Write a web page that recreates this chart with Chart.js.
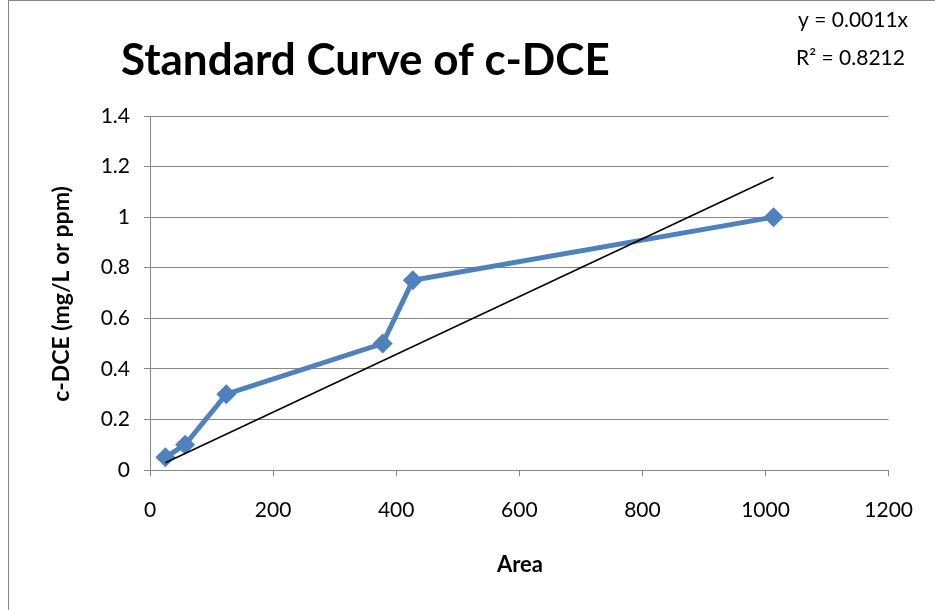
<!DOCTYPE html>
<html lang="en">
<head>
    <meta charset="UTF-8">
    <title>Standard Curve of c-DCE</title>
    <script src="https://cdn.jsdelivr.net/npm/chart.js"></script>
    <style>
        html, body { margin: 0; padding: 0; background: #fff; }
        #wrap { width: 935px; height: 610px; }
    </style>
</head>
<body>
    <div id="wrap"><canvas id="myChart" width="935" height="610"></canvas></div>

    <script>
        // data
        const areas = [25, 57, 124, 378, 427, 1013];
        const concs = [0.05, 0.1, 0.3, 0.5, 0.75, 1.0];
        const xTicks = [0, 200, 400, 600, 800, 1000, 1200];
        const yTicks = [0, 0.2, 0.4, 0.6, 0.8, 1, 1.2, 1.4];
        const equationLines = ['y = 0.0011x', 'R\u00B2 = 0.8212'];

        const FONT = 'Lato, "Open Sans", sans-serif';
        const GRAY = '#868686';
        const BLUE = '#4F81BD';

        // linear trendline through the origin (least squares), drawn over the data range
        function trendPoints() {
            let sxy = 0, sxx = 0;
            areas.forEach((x, i) => { sxy += x * concs[i]; sxx += x * x; });
            const k = sxy / sxx;
            const x0 = Math.min(...areas), x1 = Math.max(...areas);
            return [{ x: x0, y: k * x0 }, { x: x1, y: k * x1 }];
        }

        // title, equation, axis titles and outer border
        const decor = {
            id: 'decor',
            afterDraw(chart) {
                const ctx = chart.ctx;
                ctx.save();
                ctx.strokeStyle = GRAY;
                ctx.lineWidth = 1;
                ctx.strokeRect(8.5, 0.5, 1200, 1200);

                ctx.fillStyle = '#000';
                ctx.textBaseline = 'middle';
                ctx.textAlign = 'left';
                ctx.font = 'bold 44px ' + FONT;
                ctx.fillText('Standard Curve of c-DCE', 121, 61);

                ctx.font = '21px ' + FONT;
                ctx.fillText(equationLines[0], 798, 20);
                ctx.fillText(equationLines[1], 796, 58);

                ctx.textAlign = 'center';
                ctx.font = 'bold 22px ' + FONT;
                ctx.fillText('Area', 520, 565);

                ctx.font = 'bold 23px ' + FONT;
                ctx.translate(62, 294);
                ctx.rotate(-Math.PI / 2);
                ctx.fillText('c-DCE (mg/L or ppm)', 0, 0);
                ctx.restore();
            }
        };

        function loadChart() {
            const ctx = document.getElementById('myChart').getContext('2d');
            new Chart(ctx, {
                type: 'scatter',
                data: {
                    datasets: [{
                        label: 'c-DCE',
                        data: areas.map((x, i) => ({ x: x, y: concs[i] })),
                        showLine: true,
                        borderColor: BLUE,
                        backgroundColor: BLUE,
                        borderWidth: 5,
                        pointStyle: 'rectRot',
                        pointRadius: 10,
                        pointBorderWidth: 0,
                        order: 1
                    }, {
                        label: 'Trend',
                        data: trendPoints(),
                        showLine: true,
                        borderColor: '#000',
                        borderWidth: 1.5,
                        pointRadius: 0,
                        order: 0
                    }]
                },
                options: {
                    responsive: false,
                    animation: false,
                    layout: { padding: { left: 0, top: 116, right: 44, bottom: 0 } },
                    plugins: {
                        legend: { display: false },
                        tooltip: { enabled: false }
                    },
                    scales: {
                        x: {
                            type: 'linear',
                            min: 0, max: 1200,
                            afterBuildTicks: s => { s.ticks = xTicks.map(v => ({ value: v })); },
                            afterFit: s => { s.height = 140; },
                            grid: { display: true, drawOnChartArea: false, color: GRAY, tickLength: 6 },
                            border: { color: GRAY, width: 1 },
                            ticks: {
                                color: '#000', font: { size: 21, family: FONT }, padding: 22, maxRotation: 0,
                                callback: v => String(v)
                            }
                        },
                        y: {
                            type: 'linear',
                            min: 0, max: 1.4,
                            afterBuildTicks: s => { s.ticks = yTicks.map(v => ({ value: v })); },
                            afterFit: s => { s.width = 150; },
                            grid: { color: GRAY, tickLength: 6 },
                            border: { color: GRAY, width: 1 },
                            ticks: {
                                color: '#000', font: { size: 21, family: FONT }, padding: 14,
                                callback: v => String(v)
                            }
                        }
                    }
                },
                plugins: [decor]
            });
        }

        window.onload = loadChart;
    </script>
</body>
</html>
